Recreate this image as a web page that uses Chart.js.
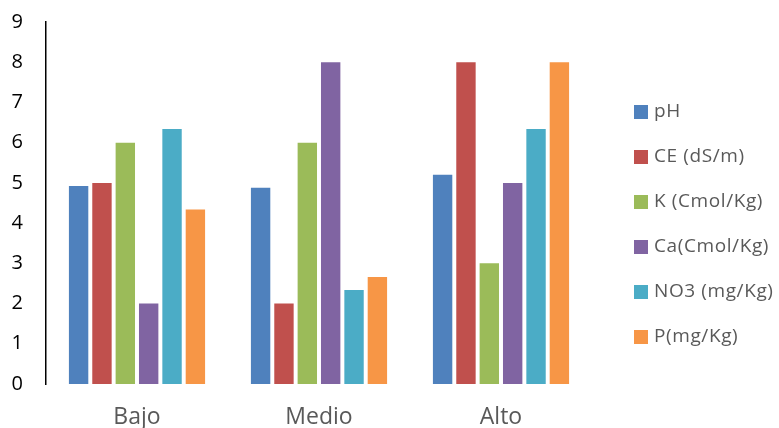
<!DOCTYPE html>
<html><head><meta charset="utf-8">
<script src="https://cdn.jsdelivr.net/npm/chart.js@4/dist/chart.umd.min.js"></script>
<style>html,body{margin:0;padding:0;background:#fff}#wrap{width:779px;height:428px}</style>
</head><body><div id="wrap"><canvas id="c" width="779" height="428"></canvas></div>
<script>
const categories = ["Bajo", "Medio", "Alto"];
const seriesNames = ["pH", "CE (dS/m)", "K (Cmol/Kg)", "Ca(Cmol/Kg)", "NO3 (mg/Kg)", "P(mg/Kg)"];
const pH   = [4.92, 4.88, 5.2];
const CE   = [5.0, 2.0, 8.0];
const K    = [6.0, 6.0, 3.0];
const Ca   = [2.0, 8.0, 5.0];
const NO3  = [6.34, 2.34, 6.34];
const P    = [4.34, 2.66, 8.0];
const yTicks = [0,1,2,3,4,5,6,7,8,9];
const colors = ["#4F81BD", "#C0504D", "#9BBB59", "#8064A2", "#4BACC6", "#F79646"];
const seriesValues = [pH, CE, K, Ca, NO3, P];
const FONT = '"Open Sans", Lato, sans-serif';

const legendPlugin = {
  id: 'rightLegend',
  afterDraw(chart) {
    const ctx = chart.ctx;
    ctx.save();
    ctx.font = '19px ' + FONT;
    ctx.textBaseline = 'middle';
    ctx.textAlign = 'left';
    try { ctx.letterSpacing = '0.6px'; } catch (e) {}
    chart.data.datasets.forEach((ds, i) => {
      const y = 112 + i * 45;
      ctx.fillStyle = ds.backgroundColor;
      ctx.fillRect(634, y - 7, 14, 14);
      ctx.fillStyle = '#595959';
      ctx.fillText(ds.label, 654, y);
    });
    ctx.restore();
  }
};

new Chart(document.getElementById('c'), {
  type: 'bar',
  data: {
    labels: categories,
    datasets: seriesNames.map((n, i) => ({
      label: n,
      data: seriesValues[i],
      backgroundColor: colors[i],
      borderWidth: 0,
      barPercentage: 0.83,
      categoryPercentage: 0.77
    }))
  },
  options: {
    responsive: false,
    animation: false,
    layout: { padding: { left: 0, right: 187, top: 22, bottom: 0 } },
    plugins: { legend: { display: false }, tooltip: { enabled: false } },
    scales: {
      x: {
        grid: { display: false, drawTicks: false },
        border: { display: false },
        ticks: { color: '#595959', font: { family: FONT, size: 23 }, padding: 20 },
        afterFit(s) { s.height = 44; s.paddingLeft = 0; s.paddingRight = 0; }
      },
      y: {
        min: 0, max: 9,
        afterBuildTicks(s) { s.ticks = yTicks.map(v => ({ value: v })); },
        grid: { display: false, drawTicks: false },
        border: { display: true, color: '#000', width: 1.5 },
        ticks: { color: '#000', font: { family: FONT, size: 20 }, padding: 23 },
        afterFit(s) { s.width = 46; s.paddingTop = 0; s.paddingBottom = 0; }
      }
    }
  },
  plugins: [legendPlugin]
});
</script>
</body></html>
